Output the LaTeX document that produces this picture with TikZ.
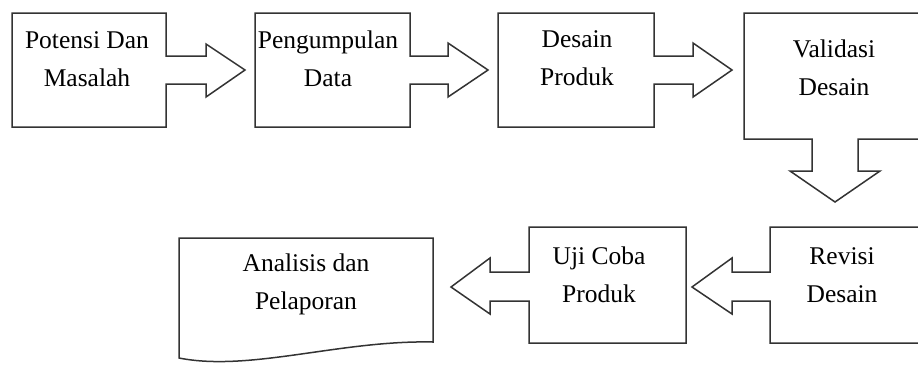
\documentclass[tikz,border=0pt]{standalone}
\usepackage{fontspec}
\setmainfont{Liberation Serif}
\begin{document}
\begin{tikzpicture}[x=1pt,y=-1pt,
  shapeline/.style={draw=black!80,line width=1.5pt,line join=miter,fill=white},
  lbl/.style={font=\fontsize{25.5}{38}\selectfont,align=center,inner sep=0pt,anchor=base,text=black}]
\useasboundingbox (0,0) rectangle (918,365);
\clip (0,0) rectangle (918,365);
% Potensi Dan Masalah
\draw[shapeline] (12,13) -- (166,13) -- (166,56) -- (206,56) -- (206,44) -- (245,70) -- (206,97) -- (206,84) -- (166,84) -- (166,127) -- (12,127) -- cycle;
% Pengumpulan Data
\draw[shapeline] (255,13) -- (410,13) -- (410,56) -- (448,56) -- (448,43) -- (488,70) -- (448,97) -- (448,84) -- (410,84) -- (410,127) -- (255,127) -- cycle;
% Desain Produk
\draw[shapeline] (498,13) -- (654,13) -- (654,56) -- (693,56) -- (693,43) -- (732,70) -- (693,97) -- (693,84) -- (654,84) -- (654,127) -- (498,127) -- cycle;
% Validasi Desain
\draw[shapeline] (744,13) -- (935,13) -- (935,139) -- (858,139) -- (858,171) -- (880,171) -- (835,202) -- (790,171) -- (812,171) -- (812,139) -- (744,139) -- cycle;
% Revisi Desain
\draw[shapeline] (770,227) -- (935,227) -- (935,343) -- (770,343) -- (770,301) -- (732,301) -- (732,314) -- (692,287) -- (732,258) -- (732,272) -- (770,272) -- cycle;
% Uji Coba Produk
\draw[shapeline] (529,227) -- (686,227) -- (686,343) -- (529,343) -- (529,301) -- (490,301) -- (490,314) -- (451,287) -- (490,258) -- (490,272) -- (529,272) -- cycle;
% Analisis dan Pelaporan (document shape)
\draw[shapeline] (179,238) -- (433,238) -- (433,342) .. controls (340,340) and (250,372) .. (179,358) -- cycle;

\node[lbl] (t1) at (87,86) {Potensi Dan\\Masalah};
\node[lbl] (t2) at (328,86) {Pengumpulan\\Data};
\node[lbl] (t3) at (577,85) {Desain\\Produk};
\node[lbl] (t4) at (834,95) {Validasi\\Desain};
\node[lbl] (t5) at (842,302) {Revisi\\Desain};
\node[lbl] (t6) at (599,302) {Uji Coba\\Produk};
\node[lbl] (t7) at (306,309) {Analisis dan\\Pelaporan};
\end{tikzpicture}
\end{document}
